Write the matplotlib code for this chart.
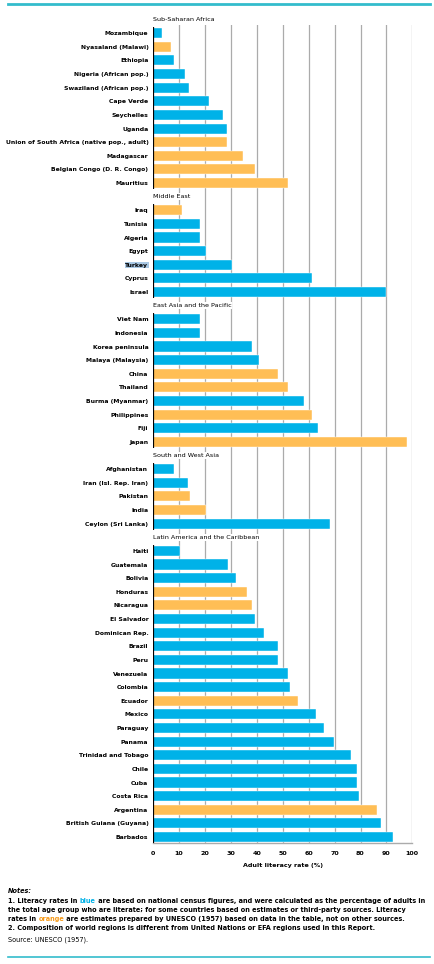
import matplotlib
matplotlib.use("Agg")
import matplotlib.pyplot as plt
from matplotlib.lines import Line2D

plt.rcParams['font.family'] = ['Liberation Sans Narrow', 'DejaVu Sans']

# Regions, countries, literacy rates (%), and whether the value is a UNESCO estimate (1) or census (0)
regions = ["Sub-Saharan Africa", "Middle East", "East Asia and the Pacific",
           "South and West Asia", "Latin America and the Caribbean"]

ssa_names = ["Mozambique", "Nyasaland (Malawi)", "Ethiopia", "Nigeria (African pop.)",
             "Swaziland (African pop.)", "Cape Verde", "Seychelles", "Uganda",
             "Union of South Africa (native pop., adult)", "Madagascar",
             "Belgian Congo (D. R. Congo)", "Mauritius"]
ssa_vals = [3.5, 6.8, 8.1, 12.1, 13.6, 21.4, 26.8, 28.3, 28.3, 34.5, 39.1, 52.2]
ssa_est = [0, 1, 0, 0, 0, 0, 0, 0, 1, 1, 1, 1]

me_names = ["Iraq", "Tunisia", "Algeria", "Egypt", "Turkey", "Cyprus", "Israel"]
me_vals = [11.2, 18.2, 18.2, 20.3, 30.3, 61.4, 90.0]
me_est = [1, 0, 0, 0, 0, 0, 0]

eap_names = ["Viet Nam", "Indonesia", "Korea peninsula", "Malaya (Malaysia)", "China",
             "Thailand", "Burma (Myanmar)", "Philippines", "Fiji", "Japan"]
eap_vals = [18.2, 18.2, 38.3, 40.7, 48.3, 52.2, 58.3, 61.4, 63.7, 97.8]
eap_est = [0, 0, 0, 0, 1, 1, 0, 1, 0, 1]

swa_names = ["Afghanistan", "Iran (Isl. Rep. Iran)", "Pakistan", "India", "Ceylon (Sri Lanka)"]
swa_vals = [8.0, 13.5, 14.3, 20.3, 68.3]
swa_est = [0, 0, 1, 1, 0]

lac_names = ["Haiti", "Guatemala", "Bolivia", "Honduras", "Nicaragua", "El Salvador",
             "Dominican Rep.", "Brazil", "Peru", "Venezuela", "Colombia", "Ecuador",
             "Mexico", "Paraguay", "Panama", "Trinidad and Tobago", "Chile", "Cuba",
             "Costa Rica", "Argentina", "British Guiana (Guyana)", "Barbados"]
lac_vals = [10.3, 29.0, 32.1, 36.0, 38.3, 39.1, 42.9, 48.3, 48.3, 52.2, 52.9, 56.0,
            62.9, 66.0, 69.9, 76.2, 78.5, 78.5, 79.5, 86.2, 87.8, 92.4]
lac_est = [0, 0, 0, 1, 1, 0, 0, 0, 0, 0, 0, 1,
           0, 0, 0, 0, 0, 0, 0, 1, 0, 0]

x_ticks = [0, 10, 20, 30, 40, 50, 60, 70, 80, 90, 100]

groups = [(ssa_names, ssa_vals, ssa_est), (me_names, me_vals, me_est),
          (eap_names, eap_vals, eap_est), (swa_names, swa_vals, swa_est),
          (lac_names, lac_vals, lac_est)]

BLUE = "#00b2e8"
ORANGE = "#ffbe55"
TEAL = "#33bccc"
GRID = "#ababab"

fig = plt.figure(figsize=(4.34, 9.64), dpi=100)
ax = fig.add_axes([153.3 / 434, 1 - 843 / 964, 259 / 434, 818 / 964])

# lay out rows: one title row before each group
row = 0
ypos, names, vals, colors = [], [], [], []
title_rows, spans = [], []
for (n, v, e) in groups:
    title_rows.append(row)
    row += 1
    start = row
    for nm, val, es in zip(n, v, e):
        ypos.append(row)
        names.append(nm)
        vals.append(val)
        colors.append(ORANGE if es else BLUE)
        row += 1
    spans.append((start, row - 1))

ax.barh(ypos, vals, height=0.74, color=colors, edgecolor="white", linewidth=0.3, zorder=2)
ax.set_ylim(ypos[-1] + 0.44, 0.4)
ax.set_xlim(0, 100)

for xt in x_ticks[1:]:
    ax.axvline(xt, color=GRID, lw=0.9, zorder=1)

for s, e in spans:
    ax.vlines(0, s - 0.45, e + 0.45, color="black", lw=1.6, zorder=3)

for r, t in zip(title_rows, regions):
    ax.text(-0.3, r, t, fontsize=4.6, ha="left", va="center", zorder=4,
            bbox=dict(facecolor="white", edgecolor="none", pad=0.6), clip_on=False)

ax.set_yticks(ypos)
ax.set_yticklabels(names, fontsize=4.4, fontweight="bold")
for lbl in ax.get_yticklabels():
    if lbl.get_text() == "Turkey":
        lbl.set_bbox(dict(facecolor="#a9c8e4", edgecolor="none", pad=0.3))
ax.tick_params(axis="y", length=0, pad=3.5)
ax.set_xticks(x_ticks)
ax.set_xticklabels([str(t) for t in x_ticks], fontsize=4.6, fontweight="bold")
ax.tick_params(axis="x", length=0, pad=6)
for side in ["top", "left", "right"]:
    ax.spines[side].set_visible(False)
ax.spines["bottom"].set_color(GRID)
ax.spines["bottom"].set_linewidth(1.0)
ax.set_xlabel("Adult literacy rate (%)", fontsize=4.6, fontweight="bold", labelpad=5)

# teal rules top and bottom
fig.add_artist(Line2D([8 / 434, 430 / 434], [1 - 3.5 / 964] * 2, color=TEAL, lw=2.0))
fig.add_artist(Line2D([8 / 434, 430 / 434], [1 - 957 / 964] * 2, color=TEAL, lw=1.2))

# notes with coloured words
renderer = fig.canvas.get_renderer()


def colored_line(y_px, parts, size=4.7, weight="bold"):
    x = 8 / 434
    for txt, col in parts:
        t = fig.text(x, 1 - y_px / 964, txt, fontsize=size, color=col,
                     fontweight=weight, va="center", ha="left")
        bb = t.get_window_extent(renderer=renderer)
        x += bb.width / fig.bbox.width


colored_line(891, [("Notes:", "black")], weight="bold")
fig.texts[-1].set_style("italic")
colored_line(901, [("1. Literacy rates in ", "black"), ("blue", BLUE),
                   (" are based on national census figures, and were calculated as the percentage of adults in", "black")])
colored_line(910, [("the total age group who are literate; for some countries based on estimates or third-party sources. Literacy", "black")])
colored_line(919, [("rates in ", "black"), ("orange", "#f59a1b"),
                   (" are estimates prepared by UNESCO (1957) based on data in the table, not on other sources.", "black")])
colored_line(928, [("2. Composition of world regions is different from United Nations or EFA regions used in this Report.", "black")])
colored_line(940, [("Source: UNESCO (1957).", "black")], weight="normal")

fig.savefig("out.png", dpi=100)
